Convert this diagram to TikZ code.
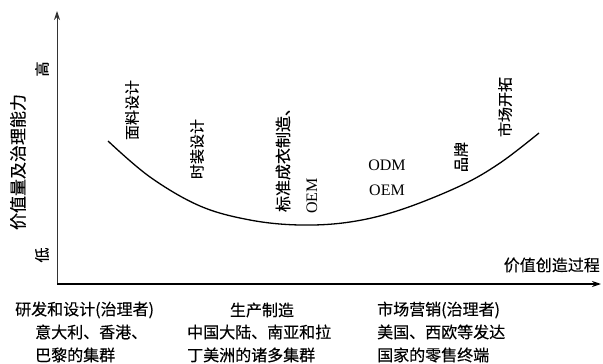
\documentclass[tikz,border=0pt]{standalone}
\usepackage{fontspec}
\setmainfont{Liberation Serif}
\newfontfamily\cjk[FakeBold=0.3]{Noto Sans CJK SC}
\usetikzlibrary{arrows.meta}
\begin{document}
\begin{tikzpicture}[x=1pt,y=-1pt,
  cn/.style={font=\cjk\fontsize{15}{15}\selectfont, inner sep=0pt},
  cnb/.style={font=\cjk\fontsize{16}{16}\selectfont, inner sep=0pt},
  vlab/.style={cn, rotate=90},
  lat/.style={font=\fontsize{16}{16}\selectfont, inner sep=0pt},
  axis/.style={-{Stealth[length=9pt,width=6pt]}},
]
\useasboundingbox (0,0) rectangle (603,364);
% axes
\coordinate (origin) at (57,284);
\coordinate (ytip) at (57,11);
\coordinate (xtip) at (601,284);
\draw[axis, line width=0.9pt, black!80] (origin) -- (ytip);
\draw[axis, line width=1.4pt] (origin) -- (xtip);
% curve
\draw[line width=1.3pt] plot[smooth, tension=0.6] coordinates {(108,141) (150,177) (200,206) (250,220) (300,225) (350,222) (400,210) (460,186) (500,163) (539,133)};
% axis labels
\node[cn, font=\cjk\fontsize{17}{17}\selectfont, rotate=90] (ylab) at (18,162) {价值量及治理能力};
\node[vlab] (high) at (42,69) {高};
\node[vlab] (low) at (42,255) {低};
\node[cnb, anchor=east] (xlab) at (600,265) {价值创造过程};
% curve labels
\node[vlab] (fabric) at (132,110) {面料设计};
\node[vlab] (fashion) at (197,149) {时装设计};
\node[vlab, font=\cjk\fontsize{16}{16}\selectfont] (std) at (283,156) {标准成衣制造、};
\node[lat, rotate=90] (oemA) at (312,196) {OEM};
\node[lat] (odm) at (387,165) {ODM};
\node[lat] (oemB) at (387,190) {OEM};
\node[vlab] (brand) at (461,157) {品牌};
\node[vlab] (market) at (505,107) {市场开拓};
% bottom text
\node[cnb, anchor=west] (b1) at (15,310) {研发和设计(治理者)};
\node[cnb, anchor=west] (b2) at (35,332) {意大利、香港、};
\node[cnb, anchor=west] (b3) at (35,355) {巴黎的集群};
\node[cnb] (c1) at (262,310) {生产制造};
\node[cnb, anchor=west] (c2) at (187,332) {中国大陆、南亚和拉};
\node[cnb, anchor=west] (c3) at (187,355) {丁美洲的诸多集群};
\node[cnb, anchor=west] (d1) at (377,310) {市场营销(治理者)};
\node[cnb, anchor=west] (d2) at (377,332) {美国、西欧等发达};
\node[cnb, anchor=west] (d3) at (377,355) {国家的零售终端};
\end{tikzpicture}
\end{document}
